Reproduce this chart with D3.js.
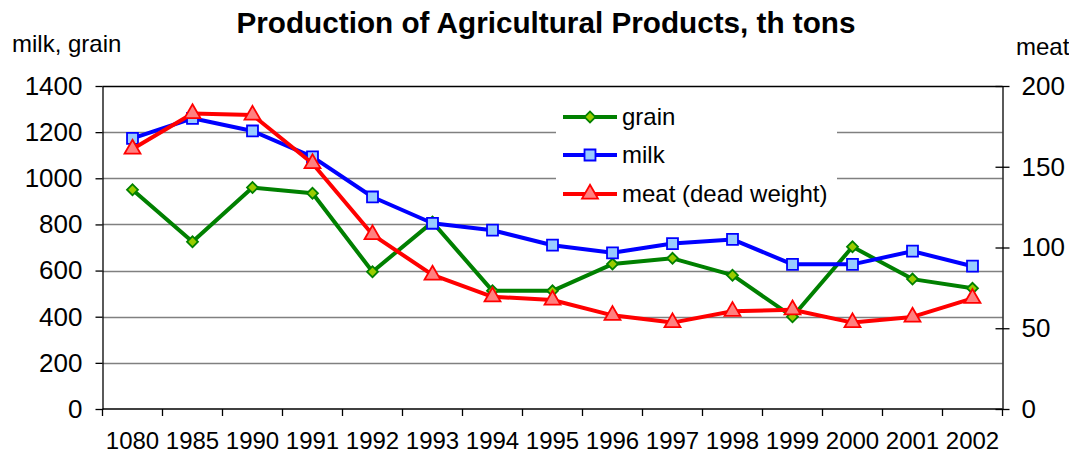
<!DOCTYPE html>
<html>
<head>
<meta charset="utf-8">
<script src="https://cdn.jsdelivr.net/npm/d3@7"></script>
<style>
  html, body { margin: 0; padding: 0; background: #fff; }
  svg { display: block; font-family: "Liberation Sans", Arial, sans-serif; }
</style>
</head>
<body>
<svg id="chart" width="1069" height="454"></svg>
<script>
// Production of agricultural products, thousand tons
const years = ["1080", "1985", "1990", "1991", "1992", "1993", "1994", "1995",
               "1996", "1997", "1998", "1999", "2000", "2001", "2002"];
const grain = [950, 725, 960, 935, 595, 810, 512, 512, 628, 653, 580, 400, 703, 563, 523];
const milk  = [1173, 1260, 1205, 1093, 919, 805, 775, 710, 677, 717, 735, 627, 627, 684, 619];
const meat  = [161, 183, 182, 152, 108, 83, 69.5, 67.5, 58, 53.5, 60.5, 61.5, 53.5, 57, 68.5];

const leftTicks  = [0, 200, 400, 600, 800, 1000, 1200, 1400];
const rightTicks = [0, 50, 100, 150, 200];

const svg = d3.select("#chart");

const plot = { left: 102.5, right: 1002.5, top: 86, bottom: 409 };

const x = d3.scaleBand().domain(years).range([plot.left, plot.right]).padding(0);
const yL = d3.scaleLinear().domain([0, 1400]).range([plot.bottom, plot.top]);
const yR = d3.scaleLinear().domain([0, 200]).range([plot.bottom, plot.top]);
const cx = d => x(d) + x.bandwidth() / 2;

// horizontal gridlines (left scale)
svg.append("g")
  .selectAll("line")
  .data(leftTicks.filter(v => v > 0))
  .join("line")
  .attr("x1", plot.left).attr("x2", plot.right)
  .attr("y1", d => Math.round(yL(d)) + 0.5).attr("y2", d => Math.round(yL(d)) + 0.5)
  .attr("stroke", d => d === 1400 ? "#000" : "#808080")
  .attr("stroke-width", 1.3);

// legend box (white, drawn over the gridlines)
const legend = svg.append("g");
legend.append("rect")
  .attr("x", 556).attr("y", 96).attr("width", 281).attr("height", 118)
  .attr("fill", "#fff");

// left axis
const axL = svg.append("g")
  .attr("transform", `translate(${plot.left},0)`)
  .call(d3.axisLeft(yL).tickValues(leftTicks).tickFormat(d3.format("d"))
    .tickSize(7).tickSizeOuter(0).tickPadding(13));
axL.select(".domain").attr("stroke", "#000").attr("stroke-width", 1.3);
axL.selectAll(".tick line").attr("stroke", "#000").attr("stroke-width", 1.3);
axL.selectAll(".tick text")
  .attr("font-size", 26).attr("fill", "#000")
  .attr("font-family", "'Liberation Sans', Arial, sans-serif");

// right axis (cross ticks)
const axR = svg.append("g")
  .attr("transform", `translate(${plot.right},0)`)
  .call(d3.axisRight(yR).tickValues(rightTicks).tickFormat(d3.format("d"))
    .tickSize(7).tickSizeOuter(0).tickPadding(12));
axR.select(".domain").attr("stroke", "#000").attr("stroke-width", 1.3);
axR.selectAll(".tick line").attr("x1", -7).attr("stroke", "#000").attr("stroke-width", 1.3);
axR.selectAll(".tick text")
  .attr("font-size", 26).attr("fill", "#000")
  .attr("font-family", "'Liberation Sans', Arial, sans-serif");

// bottom axis: labels at band centres, tick marks at band edges
const axB = svg.append("g")
  .attr("transform", `translate(0,${plot.bottom})`)
  .call(d3.axisBottom(x).tickSize(0).tickSizeOuter(0).tickPadding(0));
axB.select(".domain").remove();
axB.selectAll(".tick text")
  .attr("y", 32).attr("dy", "0.35em")
  .attr("font-size", 24).attr("fill", "#000")
  .attr("font-family", "'Liberation Sans', Arial, sans-serif");
svg.append("line")
  .attr("x1", plot.left).attr("x2", plot.right)
  .attr("y1", plot.bottom).attr("y2", plot.bottom)
  .attr("stroke", "#000").attr("stroke-width", 1.3);
svg.append("g")
  .selectAll("line")
  .data(years.map(d => x(d)).concat([plot.right]))
  .join("line")
  .attr("x1", d => d).attr("x2", d => d)
  .attr("y1", plot.bottom).attr("y2", plot.bottom + 7)
  .attr("stroke", "#000").attr("stroke-width", 1.3);

// marker shapes: rotated square for grain, square for milk, triangle for meat
const diamond = d3.symbol().type(d3.symbolSquare).size(60)();
const square = d3.symbol().type(d3.symbolSquare).size(120)();
const triangle = d3.symbol().type(d3.symbolTriangle).size(110)();

const series = [
  { name: "grain", values: grain, scale: yL, line: "#008000", fill: "#99CC00", stroke: "#008000", path: diamond, rot: 45 },
  { name: "milk", values: milk, scale: yL, line: "#0000FF", fill: "#99CCFF", stroke: "#0000FF", path: square, rot: 0 },
  { name: "meat (dead weight)", values: meat, scale: yR, line: "#FF0000", fill: "#FF8080", stroke: "#FF0000", path: triangle, rot: 0 }
];

series.forEach(s => {
  const g = svg.append("g");
  const pts = years.map((yr, i) => [cx(yr), s.scale(s.values[i])]);
  g.append("path")
    .attr("d", d3.line()(pts))
    .attr("fill", "none")
    .attr("stroke", s.line)
    .attr("stroke-width", 4)
    .attr("stroke-linejoin", "round");
  g.selectAll("path.m")
    .data(pts)
    .join("path")
    .attr("class", "m")
    .attr("transform", d => `translate(${d[0]},${d[1]}) rotate(${s.rot})`)
    .attr("d", s.path)
    .attr("fill", s.fill)
    .attr("stroke", s.stroke)
    .attr("stroke-width", 1.8);
});

// legend entries
series.forEach((s, i) => {
  const ly = [117, 155, 194][i];
  legend.append("line")
    .attr("x1", 563).attr("x2", 617).attr("y1", ly).attr("y2", ly)
    .attr("stroke", s.line).attr("stroke-width", 4);
  legend.append("path")
    .attr("transform", `translate(590,${ly}) rotate(${s.rot})`)
    .attr("d", s.path)
    .attr("fill", s.fill).attr("stroke", s.stroke).attr("stroke-width", 1.8);
  legend.append("text")
    .attr("x", 622).attr("y", ly).attr("dy", "0.35em")
    .attr("font-size", 24).attr("fill", "#000")
    .text(s.name);
});
svg.node().appendChild(legend.node());

// title and axis captions
svg.append("text")
  .attr("x", 546).attr("y", 33).attr("text-anchor", "middle")
  .attr("font-size", 29.7).attr("font-weight", "bold").attr("fill", "#000")
  .text("Production of Agricultural Products, th tons");
svg.append("text")
  .attr("x", 12).attr("y", 52)
  .attr("font-size", 24).attr("fill", "#000")
  .text("milk, grain");
svg.append("text")
  .attr("x", 1016).attr("y", 55)
  .attr("font-size", 24).attr("fill", "#000")
  .text("meat");
</script>
</body>
</html>
